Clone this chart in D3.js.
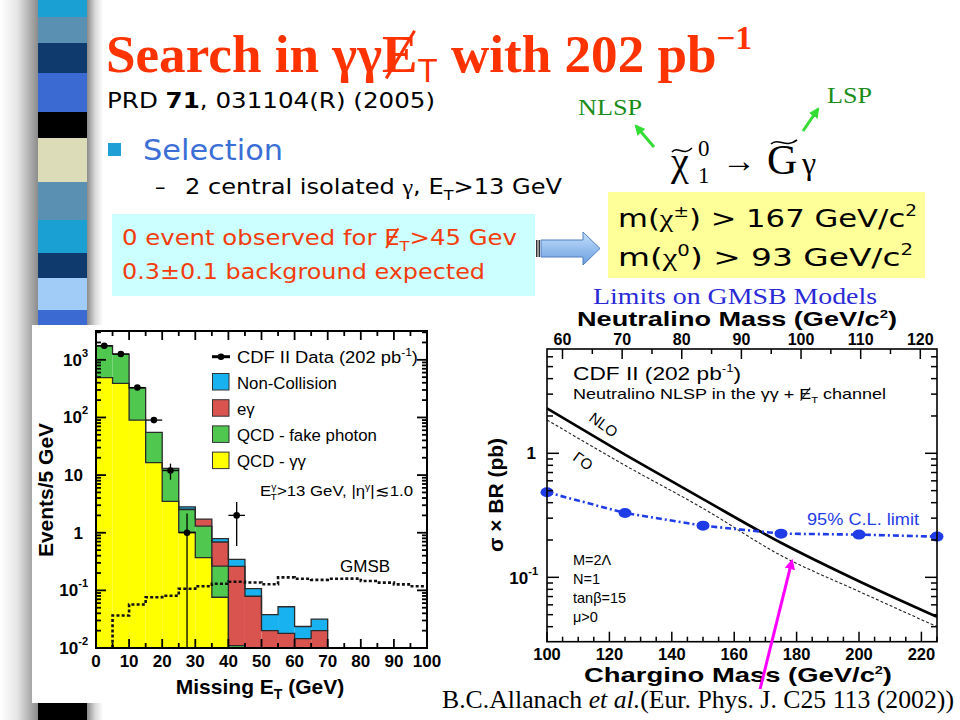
<!DOCTYPE html>
<html><head><meta charset="utf-8">
<script src="https://cdn.jsdelivr.net/npm/d3@7"></script>
<style>body{margin:0;background:#fff}svg{display:block}</style>
</head><body>
<svg id="c" width="960" height="720"></svg>
<script>
// ---------------- DATA ----------------
// Left histogram (Missing ET, 5 GeV bins)
const binStarts      = [0,5,10,15,20,25,30,35,40,45,50,55,60,65];
const qcdGammaGamma  = [490,390,90,16.5,3.5,1.02,0.37,0.076,0,0,0,0,0,0];
const qcdFakePhoton  = [1260,865,233,38.5,9.5,1.5,0.93,0.187,0.011,0,0,0,0,0];
const eGamma         = [0,0,0,0,0,0.05,0.42,0.427,0.249,0.079,0.020,0.018,0.0145,0.020];
const nonCollision   = [0,0,0,0,0,0.24,0,0.10,0.084,0.028,0.018,0.034,0.0091,0.0116];
const dataX   = [2.5,7.5,12.5,17.5,22.5,27.5,42.5];
const dataY   = [1750,1260,330,90,12,1,2];
const dataLo  = [1708,1225,312,81,8.3,0.001,0.59];
const dataHi  = [1792,1295,348,99,15.8,2.15,3.4];
const gmsbBinStarts = [5,10,15,20,25,30,35,40,45,50,55,60,65,70,75,80,85,90,95];
const gmsbValues    = [0.0366,0.0569,0.076,0.0805,0.1066,0.118,0.130,0.141,0.137,0.128,0.168,0.159,0.152,0.159,0.160,0.145,0.136,0.127,0.118];
const histXTicks = [0,10,20,30,40,50,60,70,80,90,100];
const histYTicks = [0.01,0.1,1,10,100,1000];
const legendNames = ["Non-Collision","e\u03b3","QCD - fake photon","QCD - \u03b3\u03b3"];

// Right plot (cross-section limits)
const charginoMass = [100,125,150,175,200,225];
const nloXsec      = [2.30,0.977,0.427,0.19,0.093,0.048];
const loXsec       = [1.86,0.80,0.36,0.150,0.077,0.040];
const limitXsec    = [0.485,0.33,0.261,0.225,0.221,0.213];
const charginoTicks  = [100,120,140,160,180,200,220];
const neutralinoTicks= [60,70,80,90,100,110,120];

// ---------------- SETUP ----------------
const svg = d3.select("#c");
const SANS = "Liberation Sans, Arial, sans-serif";
const SERIF = "Liberation Serif, Times New Roman, serif";
const BODY = "DejaVu Sans, sans-serif";
const defs = svg.append("defs");

svg.append("rect").attr("width",960).attr("height",720).attr("fill","#fff");

// decorative left stripes
const gl = defs.append("linearGradient").attr("id","shL");
gl.append("stop").attr("offset","0").attr("stop-color","#ffffff");
gl.append("stop").attr("offset","0.45").attr("stop-color","#e6e6e6");
gl.append("stop").attr("offset","1").attr("stop-color","#8c8c8c");
const gr = defs.append("linearGradient").attr("id","shR");
gr.append("stop").attr("offset","0").attr("stop-color","#8a8a8a");
gr.append("stop").attr("offset","0.5").attr("stop-color","#d8d8d8");
gr.append("stop").attr("offset","1").attr("stop-color","#ffffff");
svg.append("rect").attr("x",0).attr("y",0).attr("width",38).attr("height",720).attr("fill","url(#shL)");
svg.append("rect").attr("x",87).attr("y",0).attr("width",16).attr("height",720).attr("fill","url(#shR)");
const stripes = [[0,17,"#1aa0d2"],[17,43,"#5a90b2"],[43,73,"#0e3a6e"],[73,112,"#3a6ad2"],[112,138,"#000000"],
  [138,182,"#dcdcb8"],[182,220,"#5a90b2"],[220,253,"#1aa0d2"],[253,278,"#0e3a6e"],[278,310,"#a2ccf8"],
  [310,345,"#3a6ad2"],[345,690,"#5a90b2"],[690,720,"#000000"]];
svg.selectAll("rect.stripe").data(stripes).join("rect").attr("class","stripe")
  .attr("x",38).attr("width",49).attr("y",d=>d[0]).attr("height",d=>d[1]-d[0]).attr("fill",d=>d[2]);

// helper: slash over a character
function slashChar(textSel, idx, color, w){
  const b = textSel.node().getExtentOfChar(idx);
  svg.append("line").attr("x1",b.x+b.width*0.12).attr("y1",b.y+b.height*0.92)
    .attr("x2",b.x+b.width*0.92).attr("y2",b.y+b.height*0.1)
    .attr("stroke",color).attr("stroke-width",w);
}

// ---------------- SLIDE TEXT ----------------
const title = svg.append("text").attr("x",106).attr("y",72).attr("font-family",SERIF).attr("font-weight","bold")
  .attr("font-size",53).attr("fill","#ff3300").attr("textLength",646).attr("lengthAdjust","spacingAndGlyphs")
  .html('Search in \u03b3\u03b3E<tspan dy="10" font-size="33" font-weight="normal" font-family="Liberation Sans">T</tspan><tspan dy="-10"> with 202 pb</tspan><tspan dy="-23" font-size="33">\u22121</tspan>');
slashChar(title,12,"#ff3300",3);

svg.append("text").attr("x",107).attr("y",108).attr("font-family",BODY).attr("font-size",21)
  .attr("textLength",328).attr("lengthAdjust","spacingAndGlyphs").attr("fill","#000")
  .html('PRD <tspan font-weight="bold">71</tspan>, 031104(R) (2005)');

svg.append("rect").attr("x",108).attr("y",143).attr("width",13).attr("height",13).attr("fill","#1e9fd6");
svg.append("text").attr("x",143).attr("y",160).attr("font-family",BODY).attr("font-size",28)
  .attr("textLength",140).attr("lengthAdjust","spacingAndGlyphs").attr("fill","#3b6fd6").text("Selection");
svg.append("text").attr("x",155).attr("y",194).attr("font-family",BODY).attr("font-size",21).attr("fill","#000").text("\u2013");
svg.append("text").attr("x",185).attr("y",194).attr("font-family",BODY).attr("font-size",21)
  .attr("textLength",377).attr("lengthAdjust","spacingAndGlyphs").attr("fill","#000")
  .html('2 central isolated <tspan font-family="Liberation Serif">\u03b3</tspan>, E<tspan dy="6" font-size="14">T</tspan><tspan dy="-6">&gt;13 GeV</tspan>');

// cyan box
svg.append("rect").attr("x",112).attr("y",214).attr("width",423).attr("height",82).attr("fill","#ccffff");
const ev = svg.append("text").attr("x",122).attr("y",245).attr("font-family",BODY).attr("font-size",21)
  .attr("textLength",395).attr("lengthAdjust","spacingAndGlyphs").attr("fill","#f23c0c")
  .html('0 event observed for E<tspan dy="6" font-size="14">T</tspan><tspan dy="-6">&gt;45 Gev</tspan>');
slashChar(ev,21,"#f23c0c",2);
svg.append("text").attr("x",122).attr("y",279).attr("font-family",BODY).attr("font-size",21)
  .attr("textLength",363).attr("lengthAdjust","spacingAndGlyphs").attr("fill","#f23c0c")
  .text("0.3\u00b10.1 background expected");

// block arrow
const ga = defs.append("linearGradient").attr("id","arr").attr("x1",0).attr("y1",0).attr("x2",0).attr("y2",1);
ga.append("stop").attr("offset","0").attr("stop-color","#c4e0fc");
ga.append("stop").attr("offset","1").attr("stop-color","#6a9ee0");
svg.append("path").attr("d","M541,240 H583 V232 L600,248.5 L583,265 V257 H541 Z")
  .attr("fill","url(#arr)").attr("stroke","#4f7fc0").attr("stroke-width",1);
[536,538.5].forEach(x=>svg.append("rect").attr("x",x).attr("y",240).attr("width",1.5).attr("height",17).attr("fill","#333"));

// yellow box
svg.append("rect").attr("x",608).attr("y",192).attr("width",317).attr("height",86).attr("fill","#ffff99");
svg.append("text").attr("x",618).attr("y",227).attr("font-family",BODY).attr("font-size",25)
  .attr("textLength",299).attr("lengthAdjust","spacingAndGlyphs").attr("fill","#000")
  .html('m(<tspan font-family="Liberation Serif">\u03c7</tspan><tspan dy="-10" font-size="15">\u00b1</tspan><tspan dy="10">)  &gt; 167 GeV/c</tspan><tspan dy="-11" font-size="15">2</tspan>');
svg.append("text").attr("x",618).attr("y",266).attr("font-family",BODY).attr("font-size",25)
  .attr("textLength",295).attr("lengthAdjust","spacingAndGlyphs").attr("fill","#000")
  .html('m(<tspan font-family="Liberation Serif">\u03c7</tspan><tspan dy="-10" font-size="15">0</tspan><tspan dy="10">)  &gt;  93 GeV/c</tspan><tspan dy="-11" font-size="15">2</tspan>');

// decay formula
function tilde(x,y,w){
  svg.append("path").attr("d",`M${x},${y+2} C${x+w*0.3},${y-5} ${x+w*0.55},${y+7} ${x+w},${y-2}`)
    .attr("fill","none").attr("stroke","#000").attr("stroke-width",1.6);
}
svg.append("text").attr("x",671).attr("y",175).attr("font-family",SERIF).attr("font-size",40).text("\u03c7");
tilde(672,150,20);
svg.append("text").attr("x",698).attr("y",156).attr("font-family",SERIF).attr("font-size",23).text("0");
svg.append("text").attr("x",698).attr("y",183).attr("font-family",SERIF).attr("font-size",23).text("1");
svg.append("text").attr("x",722).attr("y",172).attr("font-family",SERIF).attr("font-size",34).text("\u2192");
svg.append("text").attr("x",767).attr("y",174).attr("font-family",SERIF).attr("font-size",42).text("G");
tilde(771,142,26);
svg.append("text").attr("x",802).attr("y",174).attr("font-family",SERIF).attr("font-size",32).text("\u03b3");
svg.append("text").attr("x",578).attr("y",115).attr("font-family",SERIF).attr("font-size",24).attr("fill","#1a8c1a")
  .attr("textLength",64).attr("lengthAdjust","spacingAndGlyphs").text("NLSP");
svg.append("text").attr("x",827).attr("y",103).attr("font-family",SERIF).attr("font-size",24).attr("fill","#1a8c1a")
  .attr("textLength",45).attr("lengthAdjust","spacingAndGlyphs").text("LSP");
defs.append("marker").attr("id","gh").attr("viewBox","0 0 10 10").attr("refX",8).attr("refY",5)
  .attr("markerWidth",3.5).attr("markerHeight",3.5).attr("orient","auto")
  .append("path").attr("d","M0,0 L10,5 L0,10 Z").attr("fill","#33dd33");
svg.append("line").attr("x1",654).attr("y1",147).attr("x2",636).attr("y2",126).attr("stroke","#33dd33").attr("stroke-width",3).attr("marker-end","url(#gh)");
svg.append("line").attr("x1",803).attr("y1",131).attr("x2",818).attr("y2",109).attr("stroke","#33dd33").attr("stroke-width",3).attr("marker-end","url(#gh)");

// ---------------- LEFT HISTOGRAM ----------------
defs.append("clipPath").attr("id","lclip").append("rect").attr("x",32).attr("y",325).attr("width",409).attr("height",380);
const gL = svg.append("g").attr("clip-path","url(#lclip)");
gL.append("rect").attr("x",32).attr("y",325).attr("width",409).attr("height",378).attr("fill","#fff");
const L = {x0:96,x1:427,y0:331,y1:648};
const xL = d3.scaleLinear().domain([0,100]).range([L.x0,L.x1]);
const yL = d3.scaleLog().domain([0.01,Math.pow(10,3.5)]).range([L.y1,L.y0]).clamp(true);
const bw = 5;
const series = [
  {vals:qcdGammaGamma,color:"#ffff00"},
  {vals:qcdFakePhoton,color:"#50c850"},
  {vals:eGamma,color:"#d9534f"},
  {vals:nonCollision,color:"#18b2f0"}];
const cum = binStarts.map(()=>0);
series.forEach(s=>{
  s.bot = cum.slice();
  s.top = cum.map((c,i)=>c+s.vals[i]);
  s.top.forEach((t,i)=>cum[i]=t);
});
series.forEach(s=>{
  gL.selectAll(null).data(binStarts.map((b,i)=>({b,i})).filter(d=>s.vals[d.i]>0)).join("rect")
    .attr("x",d=>xL(d.b)).attr("width",d=>xL(d.b+bw)-xL(d.b))
    .attr("y",d=>yL(s.top[d.i]))
    .attr("height",d=>yL(Math.max(s.bot[d.i],0.01))-yL(s.top[d.i]))
    .attr("fill",s.color);
});
// outlines
series.forEach(s=>{
  let p = d3.path(); let inRun=false;
  binStarts.forEach((b,i)=>{
    const on = s.vals[i]>0;
    if(on && !inRun){ p.moveTo(xL(b), yL(Math.max(s.bot[i],0.01))); p.lineTo(xL(b), yL(s.top[i])); inRun=true; }
    if(on){ p.lineTo(xL(b), yL(s.top[i])); p.lineTo(xL(b+bw), yL(s.top[i])); }
    if(inRun && (!on || i===binStarts.length-1)){
      const j = on? i : i-1;
      if(!on){ p.lineTo(xL(binStarts[j]+bw), yL(Math.max(s.bot[j],0.01))); inRun=false; }
      else { p.lineTo(xL(b+bw), yL(Math.max(s.bot[i],0.01))); inRun=false; }
    }
  });
  gL.append("path").attr("d",p.toString()).attr("fill","none").attr("stroke","#2a2a2a").attr("stroke-width",1.3);
});
// GMSB dotted step
const gm = d3.path();
gm.moveTo(xL(gmsbBinStarts[0]), yL(0.01));
gmsbBinStarts.forEach((b,i)=>{ gm.lineTo(xL(b), yL(gmsbValues[i])); gm.lineTo(xL(b+5), yL(gmsbValues[i])); });
gL.append("path").attr("d",gm.toString()).attr("fill","none").attr("stroke","#111").attr("stroke-width",2.6).attr("stroke-dasharray","3,2.2");
// data points
dataX.forEach((x,i)=>{
  gL.append("line").attr("x1",xL(x)).attr("x2",xL(x)).attr("y1",yL(dataLo[i])).attr("y2",yL(dataHi[i])).attr("stroke","#000").attr("stroke-width",1.3);
  gL.append("line").attr("x1",xL(x-2.5)).attr("x2",xL(x+2.5)).attr("y1",yL(dataY[i])).attr("y2",yL(dataY[i])).attr("stroke","#000").attr("stroke-width",1.3);
  gL.append("circle").attr("cx",xL(x)).attr("cy",yL(dataY[i])).attr("r",3.3).attr("fill","#000");
});
// frame + ticks
gL.append("rect").attr("x",L.x0).attr("y",L.y0).attr("width",L.x1-L.x0).attr("height",L.y1-L.y0).attr("fill","none").attr("stroke","#000").attr("stroke-width",2);
d3.range(0,101,5).forEach(v=>{
  const len = v%10===0?9:5;
  gL.append("line").attr("x1",xL(v)).attr("x2",xL(v)).attr("y1",L.y1).attr("y2",L.y1-len).attr("stroke","#000").attr("stroke-width",1.8);
  gL.append("line").attr("x1",xL(v)).attr("x2",xL(v)).attr("y1",L.y0).attr("y2",L.y0+len).attr("stroke","#000").attr("stroke-width",1.8);
});
for(let d=-2; d<=3; d++) for(let k=1;k<=9;k++){
  const v=k*Math.pow(10,d); if(v>Math.pow(10,3.5)) continue;
  const len = k===1?10:5;
  gL.append("line").attr("x1",L.x0).attr("x2",L.x0+len).attr("y1",yL(v)).attr("y2",yL(v)).attr("stroke","#000").attr("stroke-width",1.8);
  gL.append("line").attr("x1",L.x1).attr("x2",L.x1-len).attr("y1",yL(v)).attr("y2",yL(v)).attr("stroke","#000").attr("stroke-width",1.8);
}
const ylab = {0.01:'10<tspan dy="-9" font-size="11">-2</tspan>',0.1:'10<tspan dy="-9" font-size="11">-1</tspan>',1:'1',10:'10',100:'10<tspan dy="-9" font-size="11">2</tspan>',1000:'10<tspan dy="-9" font-size="11">3</tspan>'};
histYTicks.forEach(v=>{
  const sup = v<1||v>10;
  gL.append("text").attr("x",sup?88:83).attr("y",yL(v)+6).attr("text-anchor","end").attr("font-family",SANS)
    .attr("font-weight","bold").attr("font-size",17).html(ylab[v]);
});
histXTicks.forEach(v=>{
  gL.append("text").attr("x",xL(v)).attr("y",667).attr("text-anchor","middle").attr("font-family",SANS)
    .attr("font-weight","bold").attr("font-size",17).text(v);
});
gL.append("text").attr("x",260).attr("y",694).attr("text-anchor","middle").attr("font-family",SANS).attr("font-weight","bold")
  .attr("font-size",21).html('Missing E<tspan dy="5" font-size="14">T</tspan><tspan dy="-5"> (GeV)</tspan>');
gL.append("text").attr("transform","translate(53,490) rotate(-90)").attr("text-anchor","middle").attr("font-family",SANS)
  .attr("font-weight","bold").attr("font-size",21).text("Events/5 GeV");
// legend
gL.append("line").attr("x1",212).attr("x2",230).attr("y1",356.7).attr("y2",356.7).attr("stroke","#000").attr("stroke-width",3);
gL.append("circle").attr("cx",221).attr("cy",356.7).attr("r",3.3).attr("fill","#000");
gL.append("text").attr("x",237).attr("y",362.5).attr("font-family",SANS).attr("font-size",16.8)
  .attr("textLength",181).attr("lengthAdjust","spacingAndGlyphs")
  .html('CDF II Data (202 pb<tspan dy="-7" font-size="11">-1</tspan><tspan dy="7">)</tspan>');
const legColors = [series[3].color, series[2].color, series[1].color, series[0].color];
legendNames.forEach((n,i)=>{
  const y = 388.5 + i*26.2;
  gL.append("rect").attr("x",212.5).attr("y",y-15).attr("width",16.5).attr("height",16.5).attr("fill",legColors[i]).attr("stroke","#333").attr("stroke-width",1);
  gL.append("text").attr("x",237).attr("y",y).attr("font-family",SANS).attr("font-size",16.8).text(n);
});
gL.append("text").attr("x",260).attr("y",496).attr("font-family",SANS).attr("font-size",14.5)
  .attr("textLength",153).attr("lengthAdjust","spacingAndGlyphs")
  .html('E<tspan dy="-6" font-size="9">\u03b3</tspan><tspan dx="-5" dy="10" font-size="9">T</tspan><tspan dy="-4">&gt;13 GeV, |\u03b7</tspan><tspan dy="-6" font-size="9">\u03b3</tspan><tspan dy="6">|\u22721.0</tspan>');
gL.append("text").attr("x",340).attr("y",571.5).attr("font-family",SANS).attr("font-size",17).text("GMSB");

// ---------------- RIGHT LIMIT PLOT ----------------
const R = {x0:547,x1:937,y0:349,y1:641.7};
const xB = d3.scaleLinear().domain([100,225]).range([R.x0,R.x1]);
const xT = d3.scaleLinear().domain([57.4,122.8]).range([R.x0,R.x1]);
const yR = d3.scaleLog().domain([Math.pow(10,-1.519),Math.pow(10,0.841)]).range([R.y1,R.y0]);
const gR = svg.append("g");
const lineGen = d3.line().x((d,i)=>xB(charginoMass[i])).y(d=>yR(d)).curve(d3.curveMonotoneX);
gR.append("path").attr("d",lineGen(loXsec)).attr("fill","none").attr("stroke","#222").attr("stroke-width",1.1).attr("stroke-dasharray","3,2");
gR.append("path").attr("d",lineGen(nloXsec)).attr("fill","none").attr("stroke","#000").attr("stroke-width",2.6);
const limLine = d3.line().x((d,i)=>xB(charginoMass[i])).y(d=>yR(d));
gR.append("path").attr("d",limLine(limitXsec)).attr("fill","none").attr("stroke","#1f3ce6").attr("stroke-width",2.6).attr("stroke-dasharray","6,3,2,3");
gR.selectAll("ellipse").data(limitXsec).join("ellipse").attr("cx",(d,i)=>xB(charginoMass[i])).attr("cy",d=>yR(d))
  .attr("rx",6.5).attr("ry",5).attr("fill","#1f3ce6");
gR.append("rect").attr("x",R.x0).attr("y",R.y0).attr("width",R.x1-R.x0).attr("height",R.y1-R.y0).attr("fill","none").attr("stroke","#000").attr("stroke-width",1.6);
// ticks
d3.range(100,226,5).forEach(v=>{
  const len = v%20===0?10:5;
  gR.append("line").attr("x1",xB(v)).attr("x2",xB(v)).attr("y1",R.y1).attr("y2",R.y1-len).attr("stroke","#000").attr("stroke-width",1.5);
});
d3.range(60,121,5).forEach(v=>{
  const len = v%10===0?10:5;
  gR.append("line").attr("x1",xT(v)).attr("x2",xT(v)).attr("y1",R.y0).attr("y2",R.y0+len).attr("stroke","#000").attr("stroke-width",1.5);
});
for(let d=-2; d<=0; d++) for(let k=1;k<=9;k++){
  const v=k*Math.pow(10,d); const [a,b]=yR.domain(); if(v<a||v>b) continue;
  const len = k===1?12:6;
  gR.append("line").attr("x1",R.x0).attr("x2",R.x0+len).attr("y1",yR(v)).attr("y2",yR(v)).attr("stroke","#000").attr("stroke-width",1.5);
  gR.append("line").attr("x1",R.x1).attr("x2",R.x1-len).attr("y1",yR(v)).attr("y2",yR(v)).attr("stroke","#000").attr("stroke-width",1.5);
}
charginoTicks.forEach(v=>gR.append("text").attr("x",xB(v)).attr("y",660).attr("text-anchor","middle").attr("font-family",SANS)
  .attr("font-weight","bold").attr("font-size",16.5).text(v));
neutralinoTicks.forEach(v=>gR.append("text").attr("x",xT(v)).attr("y",344.5).attr("text-anchor","middle").attr("font-family",SANS)
  .attr("font-weight","bold").attr("font-size",16).text(v));
gR.append("text").attr("x",536).attr("y",yR(1)+6).attr("text-anchor","end").attr("font-family",SANS).attr("font-weight","bold").attr("font-size",17).text("1");
gR.append("text").attr("x",538).attr("y",yR(0.1)+7).attr("text-anchor","end").attr("font-family",SANS).attr("font-weight","bold").attr("font-size",17)
  .html('10<tspan dy="-9" font-size="11">-1</tspan>');
gR.append("text").attr("x",738).attr("y",682).attr("text-anchor","middle").attr("font-family",SANS).attr("font-weight","bold").attr("font-size",21)
  .attr("textLength",308).attr("lengthAdjust","spacingAndGlyphs")
  .html('Chargino Mass (GeV/c<tspan dy="-8" font-size="11">2</tspan><tspan dy="8">)</tspan>');
gR.append("text").attr("x",737).attr("y",325.5).attr("text-anchor","middle").attr("font-family",SANS).attr("font-weight","bold").attr("font-size",20)
  .attr("textLength",320).attr("lengthAdjust","spacingAndGlyphs")
  .html('Neutralino Mass (GeV/c<tspan dy="-8" font-size="11">2</tspan><tspan dy="8">)</tspan>');
gR.append("text").attr("x",735).attr("y",304).attr("text-anchor","middle").attr("font-family",SERIF).attr("font-size",24)
  .attr("textLength",284).attr("lengthAdjust","spacingAndGlyphs").attr("fill","#2a2ad8").text("Limits on GMSB Models");
gR.append("text").attr("transform","translate(503,495) rotate(-90)").attr("text-anchor","middle").attr("font-family",SANS)
  .attr("font-weight","bold").attr("font-size",21).attr("textLength",114).attr("lengthAdjust","spacingAndGlyphs").text("\u03c3 \u00d7 BR (pb)");
gR.append("text").attr("x",573).attr("y",380).attr("font-family",SANS).attr("font-size",19)
  .attr("textLength",168).attr("lengthAdjust","spacingAndGlyphs")
  .html('CDF II (202 pb<tspan dy="-8" font-size="11">-1</tspan><tspan dy="8">)</tspan>');
const ch = gR.append("text").attr("x",573).attr("y",399).attr("font-family",SANS).attr("font-size",14.5)
  .attr("textLength",313).attr("lengthAdjust","spacingAndGlyphs")
  .html('Neutralino NLSP in the \u03b3\u03b3 + E<tspan dy="4" font-size="9">T</tspan><tspan dy="-4"> channel</tspan>');
slashChar(ch,28,"#222",1.2);
gR.append("text").attr("transform","translate(588,420) rotate(36)").attr("font-family",SANS).attr("font-size",15).text("NLO");
gR.append("text").attr("transform","translate(578,451) rotate(36) scale(1,-1)").attr("font-family",SANS).attr("font-size",15).text("LO");
gR.append("text").attr("x",807).attr("y",525).attr("font-family",SANS).attr("font-size",16)
  .attr("textLength",112).attr("lengthAdjust","spacingAndGlyphs").attr("fill","#1f3ce6").text("95% C.L. limit");
["M=2\u039b","N=1","tan\u03b2=15","\u03bc>0"].forEach((t,i)=>gR.append("text").attr("x",573).attr("y",565+i*19.1)
  .attr("font-family",SANS).attr("font-size",14.5).text(t));
// magenta arrow
defs.append("marker").attr("id","mh").attr("viewBox","0 0 10 10").attr("refX",8).attr("refY",5)
  .attr("markerWidth",3.5).attr("markerHeight",3.5).attr("orient","auto")
  .append("path").attr("d","M0,0 L10,5 L0,10 Z").attr("fill","#ff00ff");
svg.append("line").attr("x1",xB(168.3)).attr("y1",689).attr("x2",xB(178.5)).attr("y2",yR(0.136))
  .attr("stroke","#ff00ff").attr("stroke-width",3).attr("marker-end","url(#mh)");
// reference
svg.append("text").attr("x",442).attr("y",708).attr("font-family",SERIF).attr("font-size",26)
  .attr("textLength",512).attr("lengthAdjust","spacingAndGlyphs")
  .html('B.C.Allanach <tspan font-style="italic">et al.</tspan>(Eur. Phys. J. C25 113 (2002))');
</script>
</body></html>
